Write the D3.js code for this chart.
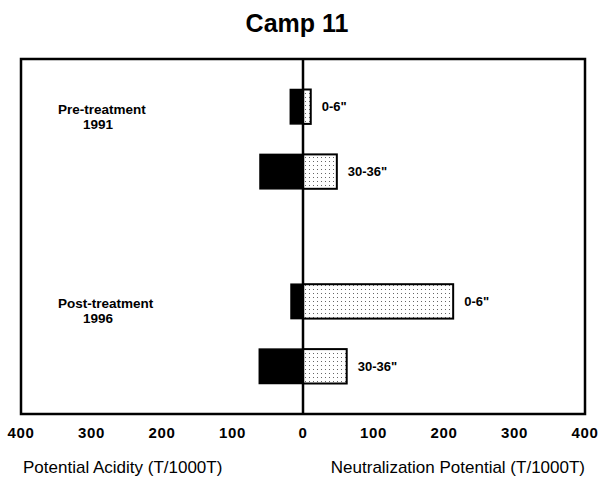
<!DOCTYPE html>
<html>
<head>
<meta charset="utf-8">
<script src="https://cdn.jsdelivr.net/npm/d3@7"></script>
<style>
  body { margin: 0; background: #fff; }
  text { font-family: "Liberation Sans", Arial, Helvetica, sans-serif; fill: #000; }
</style>
</head>
<body>
<div class="canvas"></div>
<script>
// depth categories, top to bottom ('gap' is the empty slot between the two years)
const categories = ['pre-0', 'pre-30', 'gap', 'post-0', 'post-30']
const depthLabels = ['0-6"', '30-36"', '', '0-6"', '30-36"']
// potential acidity (left, black) and neutralization potential (right, dotted), T/1000T
const acidity = [18, 61, null, 17, 62]
const neutralization = [11, 48, null, 213, 62]
// group labels, attached to the first bar of each group
const groups = [
  { name: 'Pre-treatment', year: '1991', first: 'pre-0' },
  { name: 'Post-treatment', year: '1996', first: 'post-0' }
]
const tickValues = [-400, -300, -200, -100, 0, 100, 200, 300, 400]

const dims = { width: 600, height: 477 }
const frame = { left: 21, right: 585, top: 59, bottom: 414 }

const svg = d3.select('.canvas').append('svg')
  .attr('width', dims.width)
  .attr('height', dims.height)

// dotted fill for the neutralization bars
svg.append('defs').append('pattern')
  .attr('id', 'dots')
  .attr('patternUnits', 'userSpaceOnUse')
  .attr('width', 4).attr('height', 4)
  .append('rect')
  .attr('x', 1).attr('y', 1)
  .attr('width', 1).attr('height', 1)
  .attr('fill', '#666')

const x = d3.scaleLinear().domain([-400, 400]).range([frame.left, frame.right])
const y = d3.scaleBand().domain(categories).range([frame.top, frame.bottom]).padding(0.47)

// title
svg.append('text')
  .attr('x', 297).attr('y', 32)
  .attr('text-anchor', 'middle')
  .style('font-size', '25px').style('font-weight', 'bold')
  .text('Camp 11')

// frame
svg.append('rect')
  .attr('x', frame.left).attr('y', frame.top)
  .attr('width', frame.right - frame.left)
  .attr('height', frame.bottom - frame.top)
  .attr('fill', 'none')
  .attr('stroke', '#000')
  .attr('stroke-width', 2.5)

const rows = categories.map((c, i) => ({ cat: c, label: depthLabels[i], pa: acidity[i], np: neutralization[i] }))
  .filter(d => d.pa !== null)

// acidity bars (to the left of zero)
svg.selectAll('.pa').data(rows).enter()
  .append('rect').attr('class', 'pa')
  .attr('x', d => x(-d.pa))
  .attr('y', d => y(d.cat))
  .attr('width', d => x(0) - x(-d.pa))
  .attr('height', y.bandwidth())
  .attr('fill', '#000')
  .attr('stroke', '#000')
  .attr('stroke-width', 1.5)

// neutralization bars (to the right of zero)
svg.selectAll('.np').data(rows).enter()
  .append('rect').attr('class', 'np')
  .attr('x', x(0))
  .attr('y', d => y(d.cat))
  .attr('width', d => x(d.np) - x(0))
  .attr('height', y.bandwidth())
  .attr('fill', 'url(#dots)')
  .attr('stroke', '#000')
  .attr('stroke-width', 2)

// zero line
svg.append('line')
  .attr('x1', x(0)).attr('x2', x(0))
  .attr('y1', frame.top).attr('y2', frame.bottom)
  .attr('stroke', '#000')
  .attr('stroke-width', 2.5)

// depth labels
svg.selectAll('.depth').data(rows).enter()
  .append('text').attr('class', 'depth')
  .attr('x', d => x(d.np) + 11)
  .attr('y', d => y(d.cat) + y.bandwidth() / 2)
  .attr('dy', '0.35em')
  .style('font-size', '13px').style('font-weight', 'bold')
  .text(d => d.label)

// group labels
const g = svg.selectAll('.group').data(groups).enter()
  .append('g').attr('class', 'group')
  .attr('transform', d => `translate(${frame.left}, ${y(d.first) + y.bandwidth() / 2 + 7})`)
g.append('text')
  .attr('x', 37)
  .style('font-size', '13.5px').style('font-weight', 'bold')
  .text(d => d.name)
g.append('text')
  .attr('x', 62).attr('y', 15)
  .style('font-size', '13.5px').style('font-weight', 'bold')
  .text(d => d.year)

// tick labels
svg.selectAll('.tick').data(tickValues).enter()
  .append('text').attr('class', 'tick')
  .attr('x', d => x(d))
  .attr('y', 438)
  .attr('text-anchor', 'middle')
  .style('font-size', '15px').style('font-weight', 'bold')
  .style('letter-spacing', '0.6px')
  .text(d => Math.abs(d))

// axis titles
svg.append('text')
  .attr('x', frame.left + 2).attr('y', 473)
  .style('font-size', '17px')
  .text('Potential Acidity (T/1000T)')
svg.append('text')
  .attr('x', frame.right).attr('y', 473)
  .attr('text-anchor', 'end')
  .style('font-size', '17px')
  .text('Neutralization Potential (T/1000T)')
</script>
</body>
</html>
